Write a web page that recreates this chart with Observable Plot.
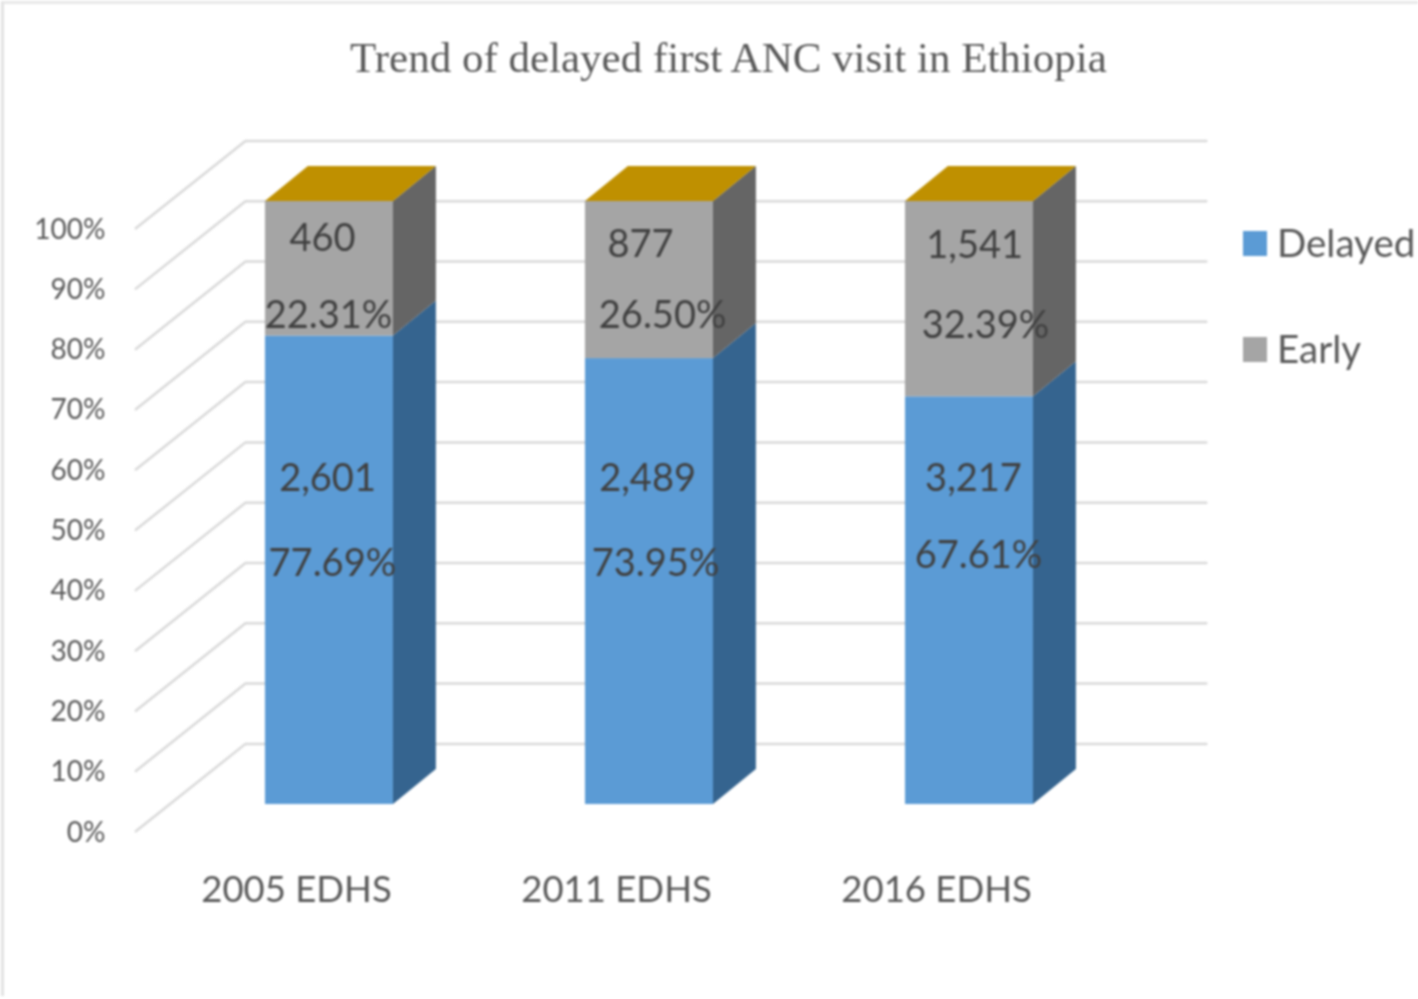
<!DOCTYPE html>
<html>
<head>
<meta charset="utf-8">
<script src="https://cdn.jsdelivr.net/npm/d3@7"></script>
<script src="https://cdn.jsdelivr.net/npm/@observablehq/plot@0.6"></script>
<style>
  html, body { margin: 0; padding: 0; background: #fff; }
  #page { position: relative; width: 1418px; height: 999px; overflow: hidden; filter: blur(0.8px); }
  #frame { position: absolute; left: 1px; top: 1px; right: 0; bottom: 3px; border-left: 3px solid #e2e2e2; border-top: 3px solid #e8e8e8; pointer-events: none; }
  #title { height: 100px; box-sizing: border-box; padding: 31px 0 0 350px; font: 43px/54px "Liberation Serif", serif; color: #595959; white-space: nowrap; }
  .lg { position: absolute; left: 1243px; display: flex; align-items: center; font: 38.5px/48px Lato, sans-serif; color: #595959; }
  .lg i { display: block; width: 24px; height: 25px; margin-right: 10px; margin-top: 2px; }
</style>
</head>
<body>
<div id="page">
  <div id="frame"></div>
  <div id="title">Trend of delayed first ANC visit in Ethiopia</div>
  <div id="chart"></div>
  <div class="lg" style="top:218px"><i style="background:#5b9bd5"></i><span>Delayed</span></div>
  <div class="lg" style="top:324px"><i style="background:#a5a5a5"></i><span>Early</span></div>
</div>
<script>
// ---- data ----
const surveys = ["2005 EDHS", "2011 EDHS", "2016 EDHS"];
const delayedPct = [77.69, 73.95, 67.61];
const earlyPct = [22.31, 26.50, 32.39];
const delayedCount = ["2,601", "2,489", "3,217"];
const earlyCount = ["460", "877", "1,541"];
const yTicks = [0, 10, 20, 30, 40, 50, 60, 70, 80, 90, 100];

// ---- 3D projection constants, in scale units ----
const barHalf = 0.2, depthX = 0.134, depthY = 5.8;
const wallFrontX = -0.605, wallBackX = -0.2625, wallEndX = 2.74;
const wallFrontY = -4.45, wallBackY = 10.05;

// label placement relative to each bar
const countEarlyPos = [[-0.022, 93.8], [-0.028, 92.8], [0.016, 92.7]];
const pctEarlyPos = [[-0.003, 81.1], [0.041, 81.1], [0.05, 79.4]];
const countDelayedPos = [[-0.006, 54.0], [-0.006, 54.0], [0.0125, 54.0]];
const pctDelayedPos = [[0.009, 39.9], [0.019, 39.9], [0.028, 41.3]];

// boundaries of each segment; the top of each stack is full height
const segments = surveys.flatMap((s, i) => [
  {i, y1: 0, y2: delayedPct[i], front: "#5b9bd5", side: "#35648f"},
  {i, y1: delayedPct[i], y2: 100, front: "#a5a5a5", side: "#656565"}
]);
const sidePts = segments.flatMap((d, k) => [
  {k, side: d.side, x: d.i + barHalf, y1: d.y1, y2: d.y2},
  {k, side: d.side, x: d.i + barHalf + depthX, y1: d.y1 + depthY, y2: d.y2 + depthY}
]);
const topPts = surveys.flatMap((s, i) => [
  {i, y: 100, x1: i - barHalf, x2: i + barHalf},
  {i, y: 100 + depthY, x1: i - barHalf + depthX, x2: i + barHalf + depthX}
]);
const gridPts = yTicks.flatMap(v => [
  {v, x: wallFrontX, y: v + wallFrontY},
  {v, x: wallBackX, y: v + wallBackY},
  {v, x: wallEndX, y: v + wallBackY}
]);
const fmt = v => v.toFixed(2) + "%";
const labels = surveys.flatMap((s, i) => [
  {x: i + countEarlyPos[i][0], y: countEarlyPos[i][1], t: earlyCount[i]},
  {x: i + pctEarlyPos[i][0], y: pctEarlyPos[i][1], t: fmt(earlyPct[i])},
  {x: i + countDelayedPos[i][0], y: countDelayedPos[i][1], t: delayedCount[i]},
  {x: i + pctDelayedPos[i][0], y: pctDelayedPos[i][1], t: fmt(delayedPct[i])}
]);

const chart = Plot.plot({
  width: 1418,
  height: 899,
  margin: 0,
  x: {domain: [-1.028, 3.403], axis: null},
  y: {domain: [-32.34, 116.75], axis: null},
  style: {background: "transparent", fontFamily: "Lato, sans-serif"},
  marks: [
    Plot.line(gridPts, {x: "x", y: "y", z: "v", stroke: "#d9d9d9", strokeWidth: 2.5, curve: "linear"}),
    Plot.rect(segments, {x1: d => d.i - barHalf, x2: d => d.i + barHalf, y1: "y1", y2: "y2", fill: "front"}),
    Plot.areaY(sidePts, {x: "x", y1: "y1", y2: "y2", z: "k", fill: "side", curve: "linear"}),
    Plot.areaX(topPts, {y: "y", x1: "x1", x2: "x2", z: "i", fill: "#bf9000", curve: "linear"}),
    Plot.text(yTicks, {x: () => -0.7, y: d => d - 4.65, text: d => d + "%", textAnchor: "end", fontSize: 28, fill: "#595959"}),
    Plot.text(surveys, {x: (d, i) => i - 0.103, y: () => -14.2, text: d => d, fontSize: 36.5, fill: "#595959"}),
    Plot.text(labels, {x: "x", y: "y", text: "t", fontSize: 38, fill: "#404040"})
  ]
});
document.getElementById("chart").appendChild(chart);
</script>
</body>
</html>
